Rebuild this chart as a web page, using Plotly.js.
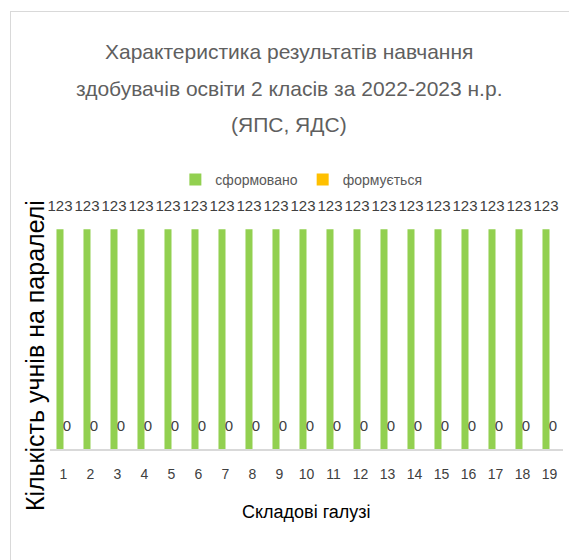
<!DOCTYPE html>
<html><head><meta charset="utf-8">
<script src="https://cdn.plot.ly/plotly-3.0.1.min.js"></script>
<style>
html,body{margin:0;padding:0;background:#fff;}
#wrap{position:relative;width:569px;height:560px;}
#chart{width:569px;height:560px;}
#frame{position:absolute;left:10px;top:11px;width:600px;height:600px;border-top:1px solid #d9d9d9;border-left:1px solid #d9d9d9;pointer-events:none;}
</style>
</head><body>
<div id="wrap"><div id="chart"></div><div id="frame"></div></div>
<script>
const categories = ['1','2','3','4','5','6','7','8','9','10','11','12','13','14','15','16','17','18','19'];
const formed = [123,123,123,123,123,123,123,123,123,123,123,123,123,123,123,123,123,123,123];
const forming = [0,0,0,0,0,0,0,0,0,0,0,0,0,0,0,0,0,0,0];
const seriesNames = ['сформовано','формується'];
const titleLines = ['Характеристика результатів навчання','здобувачів освіти 2 класів за 2022-2023 н.р.','(ЯПС, ЯДС)'];
const xTitle = 'Складові галузі';
const yTitle = 'Кількість учнів на паралелі';
const FONT = '"Liberation Sans", Arial, sans-serif';
const lbl = v => "<span style='font-size:15px'>" + v + "</span><br> ";
const lblFont = {family:FONT,size:10,color:'#404040'};
const traces = [
  {type:'bar', name:seriesNames[0], x:categories, y:formed, marker:{color:'#92d050'},
   text:formed.map(lbl), textposition:'outside', cliponaxis:false, constraintext:'none',
   textfont:lblFont, outsidetextfont:lblFont, insidetextfont:lblFont, hoverinfo:'x+y'},
  {type:'bar', name:seriesNames[1], x:categories, y:forming, marker:{color:'#ffc000'},
   text:forming.map(lbl), textposition:'outside', cliponaxis:false, constraintext:'none',
   textfont:lblFont, outsidetextfont:lblFont, insidetextfont:lblFont, hoverinfo:'x+y'}
];
const titleY = [52, 88, 125];
const annotations = titleLines.map((t,i)=>({
  text:t, xref:'paper', yref:'paper', x:0.465, xanchor:'center',
  y:1 + (199 - titleY[i]) / 250, yanchor:'middle', showarrow:false,
  font:{family:FONT,size:21,color:'#5f5f5f'}
}));
annotations.push({text:yTitle, xref:'paper', yref:'paper', textangle:-90,
  x:-0.03, xanchor:'center', y:-(513-449)/250, yanchor:'bottom', showarrow:false,
  font:{family:FONT,size:25,color:'#000'}});
annotations.push({text:xTitle, xref:'paper', yref:'paper',
  x:0.5, xanchor:'center', y:-(512-449)/250, yanchor:'middle', showarrow:false,
  font:{family:FONT,size:18,color:'#000'}});
const layout = {
  width:569, height:560,
  margin:{l:50, r:6, t:199, b:111},
  paper_bgcolor:'#fff', plot_bgcolor:'#fff',
  barmode:'group', bargap:0.48, bargroupgap:0,
  font:{family:FONT, color:'#595959'},
  showlegend:true,
  legend:{orientation:'h', x:0.49, xanchor:'center', y:1.076, yanchor:'middle',
    font:{family:FONT,size:14,color:'#595959'}, itemwidth:30, traceorder:'normal'},
  annotations:annotations,
  xaxis:{type:'category', showline:true, linecolor:'#d9d9d9', linewidth:1.5, ticks:'outside', ticklen:12, tickcolor:'rgba(0,0,0,0)',
    tickfont:{family:FONT,size:14,color:'#404040'}, showgrid:false, zeroline:false},
  yaxis:{range:[0,140], showticklabels:false, showgrid:false, zeroline:false, showline:false, ticks:''}
};
Plotly.newPlot('chart', traces, layout, {displayModeBar:false, staticPlot:true});
</script>
</body></html>
